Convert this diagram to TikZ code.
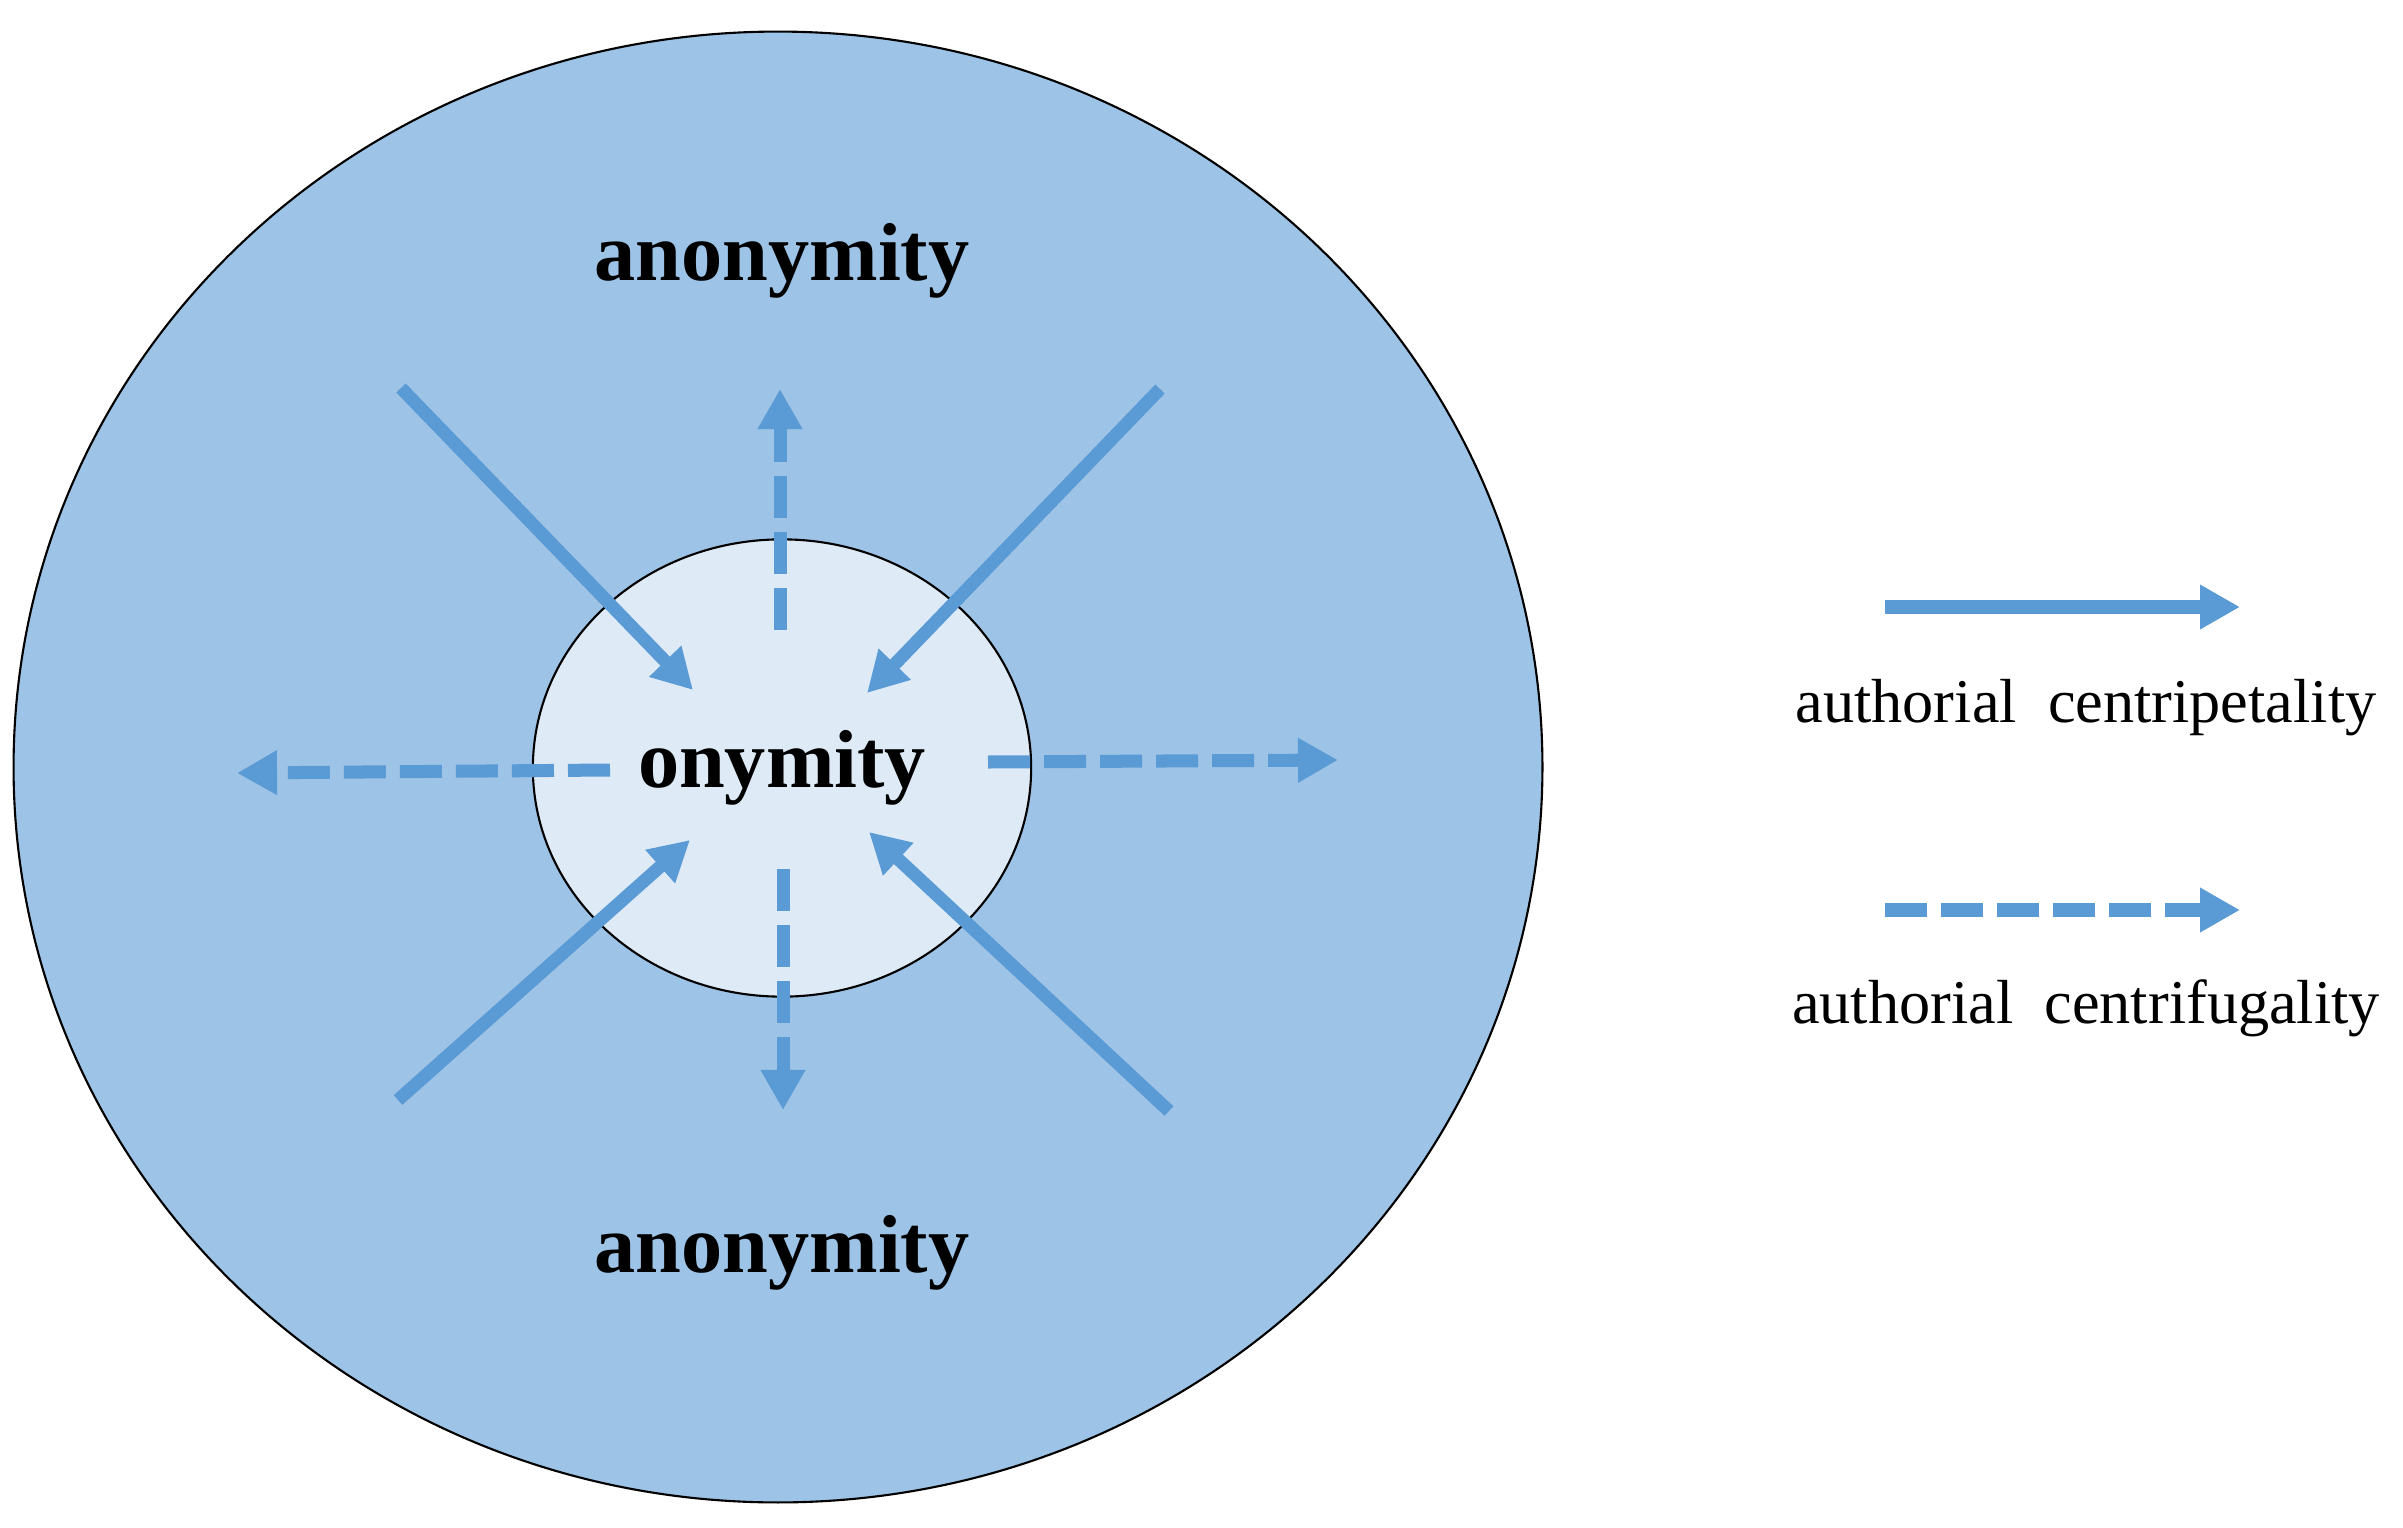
\documentclass[tikz,border=0pt]{standalone}
\usepackage{fontspec}
\setmainfont{Liberation Serif}
\usepackage{xcolor}
\usetikzlibrary{positioning,arrows.meta,shapes.geometric}
\definecolor{outerblue}{HTML}{9DC3E6}
\definecolor{innerblue}{HTML}{DEEBF7}
\definecolor{arrowblue}{HTML}{5B9BD5}
\tikzset{
  pull/.style={draw=arrowblue, line width=3.7pt, -{Triangle[length=4mm,width=4.2mm]}},
  push/.style={pull, dash pattern=on 4.2mm off 1.4mm},
  zone/.style={font=\fontsize{23.4}{28}\selectfont\bfseries},
  keytext/.style={font=\fontsize{17.7}{21}\selectfont, anchor=base}
}
\begin{document}
\begin{tikzpicture}[x=0.01cm, y=-0.01cm]
  \useasboundingbox (0,0) rectangle (2403,1527);
  % the two zones
  \node (outer) [ellipse, draw=black, line width=0.6pt, fill=outerblue, minimum width=15.28cm, minimum height=14.70cm] at (778,767) {};
  \node (onym) [ellipse, draw=black, line width=0.6pt, fill=innerblue, minimum width=4.98cm, minimum height=4.57cm, zone] at (782,768) {onymity};
  \node (anonT) [zone, anchor=base] at (782,280) {anonymity};
  \node (anonB) [zone, anchor=base] at (782,1272) {anonymity};
  % arrow ends
  \foreach \name/\px/\py in {nwA/401/388, nwB/693/690, neA/1160/389, neB/867/693,
      swA/398/1100, swB/690/840, seA/1169/1111, seB/869/832,
      upA/780/630, upB/780/389, dnA/783/869, dnB/783/1110,
      lfA/610/770, lfB/237/773, rtA/988/762, rtB/1338/760}
    \coordinate (\name) at (\px,\py);
  \foreach \a/\b in {nwA/nwB, neA/neB, swA/swB, seA/seB}
    \draw[pull] (\a) -- (\b);
  \foreach \a/\b in {upA/upB, dnA/dnB, lfA/lfB, rtA/rtB}
    \draw[push] (\a) -- (\b);
  % legend
  \coordinate (keyA) at (1885,607);
  \coordinate (keyB) at (2240,607);
  \coordinate (keyC) at (1885,910);
  \coordinate (keyD) at (2240,910);
  \draw[pull, line width=3.8pt] (keyA) -- (keyB);
  \draw[push, line width=3.8pt] (keyC) -- (keyD);
  \node (petal) [keytext] at (2086,722) {authorial\ \ centripetality};
  \node (fugal) [keytext] at (2086,1023) {authorial\ \ centrifugality};
\end{tikzpicture}
\end{document}
